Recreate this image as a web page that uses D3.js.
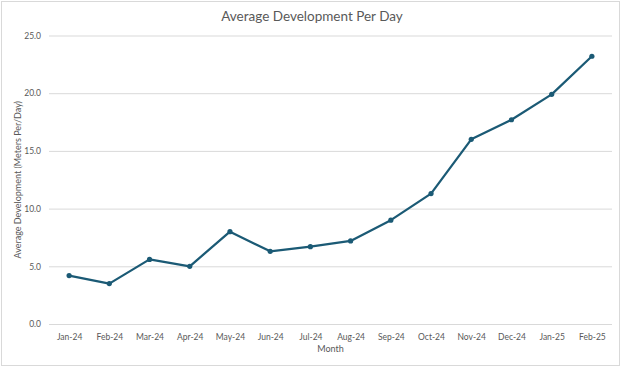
<!DOCTYPE html>
<html><head><meta charset="utf-8">
<script src="https://cdn.jsdelivr.net/npm/d3@7/dist/d3.min.js"></script>
<style>body{margin:0;background:#fff}svg{display:block}text{font-family:Lato,"Open Sans",sans-serif}</style>
</head><body><svg id="c" width="624" height="367"></svg>
<script>
const months = ["Jan-24","Feb-24","Mar-24","Apr-24","May-24","Jun-24","Jul-24","Aug-24","Sep-24","Oct-24","Nov-24","Dec-24","Jan-25","Feb-25"];
const values = [4.2,3.5,5.6,5.0,8.0,6.3,6.7,7.2,9.0,11.3,16.0,17.7,19.9,23.2];
const yTicks = [0,5,10,15,20,25];

const svg = d3.select("#c");
const W = 624, H = 367;
const m = {left:49, right:612, top:35.5, bottom:324};
svg.append("rect").attr("x",1.5).attr("y",1.5).attr("width",618).attr("height",364)
  .attr("fill","#fff").attr("stroke","#d9d9d9").attr("stroke-width",1);

const x = d3.scalePoint().domain(months).range([m.left, m.right]).padding(0.5);
const y = d3.scaleLinear().domain([0,25]).range([m.bottom, m.top]);

const gy = svg.append("g").attr("transform",`translate(${m.left},0)`)
  .call(d3.axisLeft(y).tickValues(yTicks).tickFormat(d3.format(".1f")).tickSize(-(m.right-m.left)).tickPadding(8));
gy.select(".domain").remove();
gy.selectAll("line").attr("stroke","#d9d9d9").attr("stroke-width",1);
gy.selectAll("text").attr("fill","#595959").style("font-size","8.5px");

const gx = svg.append("g").attr("transform",`translate(0,${m.bottom})`)
  .call(d3.axisBottom(x).tickSize(0).tickPadding(10));
gx.select(".domain").remove();
gx.selectAll("text").attr("fill","#595959").style("font-size","8.5px");

const line = d3.line().x((d,i)=>x(months[i])).y(d=>y(d));
svg.append("path").datum(values).attr("d",line).attr("fill","none")
  .attr("stroke","#1b5a75").attr("stroke-width",2.25).attr("stroke-linejoin","round");
svg.selectAll("circle.pt").data(values).enter().append("circle").attr("class","pt")
  .attr("cx",(d,i)=>x(months[i])).attr("cy",d=>y(d)).attr("r",2.6).attr("fill","#1b5a75");

svg.append("text").attr("x",312).attr("y",21).attr("text-anchor","middle")
  .attr("fill","#595959").style("font-size","13.5px").text("Average Development Per Day");
svg.append("text").attr("x",(m.left+m.right)/2).attr("y",352).attr("text-anchor","middle")
  .attr("fill","#595959").style("font-size","9px").text("Month");
svg.append("text").attr("transform",`translate(21,${(m.top+m.bottom)/2}) rotate(-90)`).attr("text-anchor","middle")
  .attr("fill","#595959").style("font-size","9px").text("Average Development (Meters Per/Day)");
</script></body></html>
